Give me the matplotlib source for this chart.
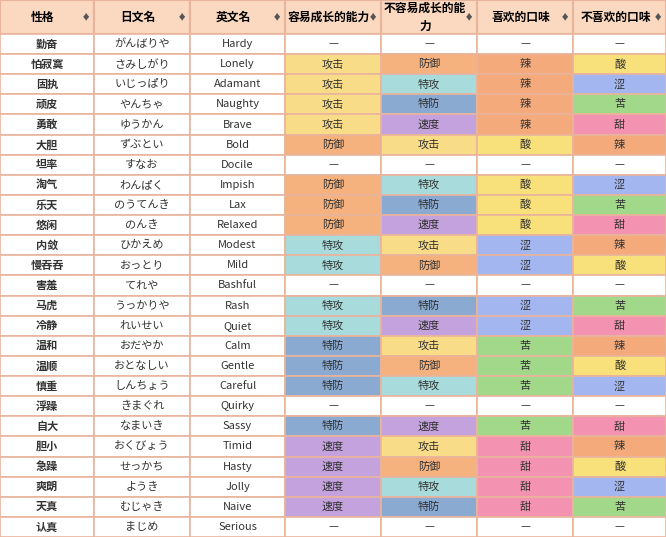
import matplotlib.pyplot as plt
from matplotlib.patches import Rectangle

plt.rcParams['font.family'] = ['Noto Sans CJK JP', 'DejaVu Sans']

headers = ["性格", "日文名", "英文名", "容易成长的能力", "不容易成长的能\n力", "喜欢的口味", "不喜欢的口味"]
natures = ["勤奋", "怕寂寞", "固执", "顽皮", "勇敢", "大胆", "坦率", "淘气", "乐天", "悠闲",
           "内敛", "慢吞吞", "害羞", "马虎", "冷静", "温和", "温顺", "慎重", "浮躁", "自大",
           "胆小", "急躁", "爽朗", "天真", "认真"]
japanese = ["がんばりや", "さみしがり", "いじっぱり", "やんちゃ", "ゆうかん", "ずぶとい", "すなお",
            "わんぱく", "のうてんき", "のんき", "ひかえめ", "おっとり", "てれや", "うっかりや",
            "れいせい", "おだやか", "おとなしい", "しんちょう", "きまぐれ", "なまいき", "おくびょう",
            "せっかち", "ようき", "むじゃき", "まじめ"]
english = ["Hardy", "Lonely", "Adamant", "Naughty", "Brave", "Bold", "Docile", "Impish", "Lax",
           "Relaxed", "Modest", "Mild", "Bashful", "Rash", "Quiet", "Calm", "Gentle", "Careful",
           "Quirky", "Sassy", "Timid", "Hasty", "Jolly", "Naive", "Serious"]
up = ["—", "攻击", "攻击", "攻击", "攻击", "防御", "—", "防御", "防御", "防御", "特攻", "特攻", "—",
      "特攻", "特攻", "特防", "特防", "特防", "—", "特防", "速度", "速度", "速度", "速度", "—"]
down = ["—", "防御", "特攻", "特防", "速度", "攻击", "—", "特攻", "特防", "速度", "攻击", "防御", "—",
        "特防", "速度", "攻击", "防御", "特攻", "—", "速度", "攻击", "防御", "特攻", "特防", "—"]
likes = ["—", "辣", "辣", "辣", "辣", "酸", "—", "酸", "酸", "酸", "涩", "涩", "—",
         "涩", "涩", "苦", "苦", "苦", "—", "苦", "甜", "甜", "甜", "甜", "—"]
dislikes = ["—", "酸", "涩", "苦", "甜", "辣", "—", "涩", "苦", "甜", "辣", "酸", "—",
            "苦", "甜", "辣", "酸", "涩", "—", "甜", "辣", "酸", "涩", "苦", "—"]

colors = {"攻击": "#f8dc88", "防御": "#f6b27e", "特攻": "#a8dcdc", "特防": "#8aaad2", "速度": "#c4a2de",
          "辣": "#f4aa7a", "酸": "#f8e07a", "涩": "#a4b6f0", "苦": "#a2d88a", "甜": "#f492b2",
          "—": "white"}

W, H = 666, 537
col_x = [0, 94, 190, 285, 381, 477, 573, 666]
head_h = 34
row_h = (H - head_h) / len(natures)
border = "#e9b49c"

fig = plt.figure(figsize=(W / 100, H / 100), dpi=100)
ax = fig.add_axes([0, 0, 1, 1])
ax.set_xlim(0, W)
ax.set_ylim(H, 0)
ax.axis('off')

for c, h in enumerate(headers):
    x0, x1 = col_x[c], col_x[c + 1]
    ax.add_patch(Rectangle((x0, 0), x1 - x0, head_h, fc="#fbd8c0", ec=border, lw=1.5))
    ax.text((x0 + x1) / 2 - 4, head_h / 2, h, ha='center', va='center', fontsize=8.5,
            fontweight='bold', linespacing=1.5)
    ax.text(x1 - 8, head_h / 2, "♦", ha='center', va='center', fontsize=6, color="#555555")

columns = [natures, japanese, english, up, down, likes, dislikes]
for r in range(len(natures)):
    y = head_h + r * row_h
    for c, col in enumerate(columns):
        val = col[r]
        x0, x1 = col_x[c], col_x[c + 1]
        fc = colors.get(val, "white") if c >= 3 else "white"
        ax.add_patch(Rectangle((x0, y), x1 - x0, row_h, fc=fc, ec=border, lw=1.2))
        ax.text((x0 + x1) / 2, y + row_h / 2, val, ha='center', va='center', fontsize=8,
                fontweight='bold' if c == 0 else 'normal', color="#333333")

fig.savefig("out.png", dpi=100)
